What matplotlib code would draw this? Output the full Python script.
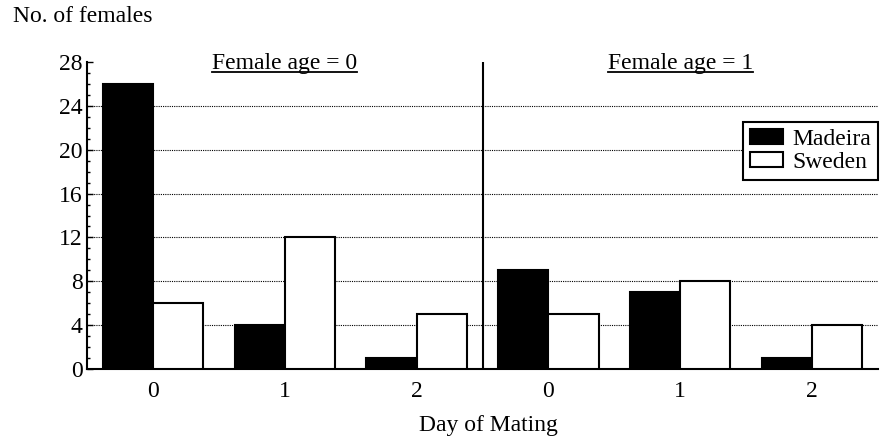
import matplotlib
matplotlib.use('Agg')
import matplotlib.pyplot as plt
import numpy as np

#####################   Data   ##################################
days = ['0', '1', '2', '0', '1', '2']
madeira = [26, 4, 1, 9, 7, 1]
sweden = [6, 12, 5, 5, 8, 4]
panel_titles = ['Female age = 0', 'Female age = 1']
y_ticks = [0, 4, 8, 12, 16, 20, 24, 28]

plt.rcParams['font.family'] = ['Liberation Serif', 'DejaVu Serif']
plt.rcParams['font.size'] = 17

fig = plt.figure(figsize=(8.8, 4.37), dpi=100)
ax = fig.add_axes([87 / 880, 1 - 369 / 437, (878 - 87) / 880, (369 - 62) / 437])

x = np.arange(len(days))
w = 0.38

################# BARS ##############
ax.bar(x - w / 2, madeira, width=w, color='black', edgecolor='black',
       linewidth=1.5, label='Madeira', zorder=3)
ax.bar(x + w / 2, sweden, width=w, color='white', edgecolor='black',
       linewidth=1.5, label='Sweden', zorder=3)

################# AXES ##############
ax.set_xlim(-0.5, 5.5)
ax.set_ylim(0, 28)
ax.set_yticks(y_ticks)
ax.set_yticks(np.arange(0, 29, 1), minor=True)
ax.set_xticks(x)
ax.set_xticklabels(days)
ax.tick_params(axis='x', length=0, pad=8.5)
ax.tick_params(axis='y', which='major', direction='in', length=4, width=1, pad=3)
ax.tick_params(axis='y', which='minor', direction='in', length=2.5, width=1)

for s in ['top', 'right']:
    ax.spines[s].set_visible(False)
for s in ['left', 'bottom']:
    ax.spines[s].set_linewidth(1.5)

# dotted grid lines (no line at the top tick)
for yv in y_ticks[1:-1]:
    ax.axhline(yv, color='black', linewidth=0.8, linestyle=(0, (1, 1)), zorder=1)

# panel divider
ax.axvline(2.5, color='black', linewidth=1.5, zorder=4)

ax.set_xlabel('Day of Mating', labelpad=9.5)
ax.xaxis.label.set_x(0.507)
fig.text(13 / 880, 1 - 16 / 437, 'No. of females', ha='left', va='center')

################# PANEL TITLES (underlined) ##############
titles = []
for i, t in enumerate(panel_titles):
    titles.append(ax.text(1 + 3 * i, 27.4, t, ha='center', va='baseline'))

fig.canvas.draw()
renderer = fig.canvas.get_renderer()
inv = ax.transData.inverted()
for t in titles:
    bb = t.get_window_extent(renderer)
    x0 = inv.transform((bb.x0, 0))[0]
    x1 = inv.transform((bb.x1, 0))[0]
    ax.plot([x0, x1], [27.1, 27.1], color='black', linewidth=1.3,
            clip_on=False, zorder=5)

################# LEGEND ##############
leg = ax.legend(loc='upper right', bbox_to_anchor=(1.0, 0.805), frameon=True,
                fancybox=False, framealpha=1, handlelength=1.4, handleheight=0.6,
                handletextpad=0.4, borderpad=0.3, labelspacing=0.1,
                borderaxespad=0)
leg.get_frame().set_edgecolor('black')
leg.get_frame().set_linewidth(1.5)
leg.set_zorder(6)

fig.savefig('out.png', dpi=100)
